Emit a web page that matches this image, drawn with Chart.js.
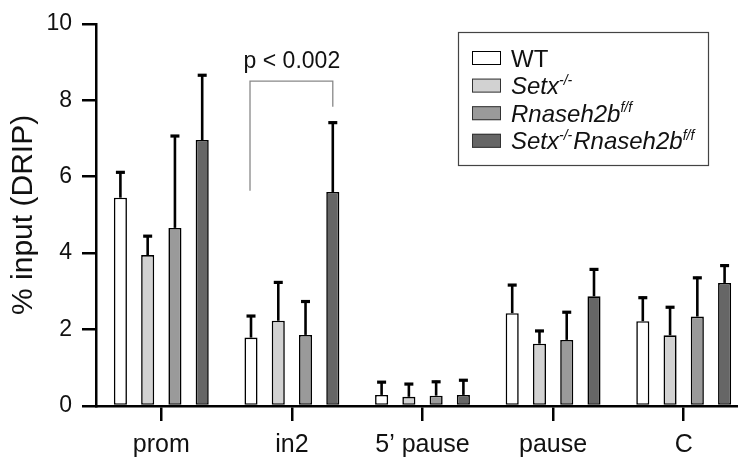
<!DOCTYPE html>
<html>
<head>
<meta charset="utf-8">
<script src="https://cdn.jsdelivr.net/npm/chart.js@4.4.1/dist/chart.umd.min.js"></script>
<style>
  html, body { margin: 0; padding: 0; background: #fff; overflow: hidden; }
</style>
</head>
<body>
<canvas id="dripChart" width="749" height="466"></canvas>
<script>
// regions on the x axis
const regions = ["prom", "in2", "5\u2019 pause", "pause", "C"];

// legend labels, split into runs so the superscripts can be drawn
const wtLabel = [{ text: "WT" }];
const setxLabel = [{ text: "Setx", italic: true }, { text: "-/-", italic: true, sup: true }];
const rnasehLabel = [{ text: "Rnaseh2b", italic: true }, { text: "f/f", italic: true, sup: true }];
const doubleLabel = [
  { text: "Setx", italic: true }, { text: "-/-", italic: true, sup: true },
  { text: "Rnaseh2b", italic: true }, { text: "f/f", italic: true, sup: true }
];

// mean % input and upper error (SD) per region
const wtMeans = [5.45, 1.79, 0.29, 2.43, 2.22];
const wtErr = [0.69, 0.59, 0.36, 0.76, 0.64];
const setxMeans = [3.95, 2.23, 0.24, 1.63, 1.85];
const setxErr = [0.52, 1.03, 0.36, 0.36, 0.76];
const rnasehMeans = [4.66, 1.86, 0.27, 1.73, 2.34];
const rnasehErr = [2.43, 0.90, 0.39, 0.75, 1.04];
const doubleMeans = [6.96, 5.60, 0.29, 2.87, 3.22];
const doubleErr = [1.72, 1.84, 0.41, 0.73, 0.48];

const yTicks = [0, 2, 4, 6, 8, 10];
const pValueText = "p < 0.002";

const FONT = "'Liberation Sans', Arial, Helvetica, sans-serif";
Chart.defaults.font.family = FONT;
Chart.defaults.color = '#111';

const errorBarPlugin = {
  id: 'errorBars',
  afterDatasetsDraw(chart) {
    const { ctx } = chart;
    const y = chart.scales.y;
    ctx.save();
    ctx.strokeStyle = '#000';
    chart.data.datasets.forEach((ds, i) => {
      const meta = chart.getDatasetMeta(i);
      meta.data.forEach((bar, j) => {
        const top = y.getPixelForValue(ds.data[j] + ds.errors[j]);
        ctx.lineWidth = 2.6;
        ctx.beginPath();
        ctx.moveTo(bar.x, bar.y);
        ctx.lineTo(bar.x, top);
        ctx.stroke();
        ctx.lineWidth = 3.2;
        ctx.beginPath();
        ctx.moveTo(bar.x - 4.5, top + 1);
        ctx.lineTo(bar.x + 4.5, top + 1);
        ctx.stroke();
      });
    });
    ctx.restore();
  }
};

// significance bracket between WT and double mutant at in2
const bracketPlugin = {
  id: 'bracket',
  afterDatasetsDraw(chart) {
    const { ctx } = chart;
    const y = chart.scales.y;
    const left = chart.getDatasetMeta(0).data[1];
    const right = chart.getDatasetMeta(3).data[1];
    if (!left || !right) return;
    const yLine = y.getPixelForValue(8.5);
    ctx.save();
    ctx.strokeStyle = '#888';
    ctx.lineWidth = 1.3;
    ctx.beginPath();
    ctx.moveTo(left.x - 1, y.getPixelForValue(5.63));
    ctx.lineTo(left.x - 1, yLine);
    ctx.lineTo(right.x, yLine);
    ctx.lineTo(right.x, y.getPixelForValue(7.83));
    ctx.stroke();
    ctx.fillStyle = '#111';
    ctx.font = `23px ${FONT}`;
    ctx.textAlign = 'center';
    ctx.textBaseline = 'middle';
    ctx.fillText(pValueText, (left.x + right.x) / 2, y.getPixelForValue(9.02));
    ctx.restore();
  }
};

// boxed legend with italic names and superscripts
const boxLegendPlugin = {
  id: 'boxLegend',
  afterDraw(chart) {
    const { ctx } = chart;
    const boxX = 458, boxY = 32, boxW = 250, boxH = 133;
    ctx.save();
    ctx.strokeStyle = '#444';
    ctx.lineWidth = 1.2;
    ctx.strokeRect(boxX + 0.5, boxY + 0.5, boxW, boxH);
    chart.data.datasets.forEach((ds, i) => {
      const cy = 58 + i * 27.6;
      ctx.fillStyle = ds.backgroundColor;
      ctx.fillRect(472, cy - 7, 29, 14);
      ctx.strokeStyle = i === 0 ? '#000' : '#333';
      ctx.lineWidth = 1;
      ctx.strokeRect(472.5, cy - 6.5, 28, 13);
      let x = 511;
      ctx.fillStyle = '#111';
      ctx.textBaseline = 'alphabetic';
      ctx.textAlign = 'left';
      ds.legendRuns.forEach(run => {
        const size = run.sup ? 14 : 24;
        ctx.font = `${run.italic ? 'italic ' : ''}${size}px ${FONT}`;
        const baseline = run.sup ? cy - 1 : cy + 8.5;
        ctx.fillText(run.text, x, baseline);
        x += ctx.measureText(run.text).width + (run.sup ? 1 : 0);
      });
    });
    ctx.restore();
  }
};

function makeDataset(runs, means, errors, fill, border) {
  return {
    label: runs.map(r => r.text).join(''),
    legendRuns: runs,
    data: means,
    errors: errors,
    backgroundColor: fill,
    borderColor: border,
    borderWidth: 1.6,
    borderSkipped: false
  };
}

const ctx = document.getElementById('dripChart');
new Chart(ctx, {
  type: 'bar',
  data: {
    labels: regions,
    datasets: [
      makeDataset(wtLabel, wtMeans, wtErr, '#ffffff', '#000'),
      makeDataset(setxLabel, setxMeans, setxErr, '#d2d2d2', '#000'),
      makeDataset(rnasehLabel, rnasehMeans, rnasehErr, '#9a9a9a', '#000'),
      makeDataset(doubleLabel, doubleMeans, doubleErr, '#666666', '#000')
    ]
  },
  options: {
    responsive: false,
    animation: false,
    layout: { padding: { top: 19, right: 0, bottom: 0, left: 0 } },
    datasets: {
      bar: { categoryPercentage: 0.835, barPercentage: 0.48 }
    },
    scales: {
      x: {
        offset: true,
        grid: { display: true, drawOnChartArea: false, offset: false, tickLength: 15, lineWidth: 2.5, color: '#000' },
        border: { display: true, color: '#000', width: 2.5 },
        ticks: { color: '#111', font: { size: 25 }, padding: 9, maxRotation: 0, autoSkip: false },
        afterFit: (scale) => { scale.height = 60; }
      },
      y: {
        min: 0,
        max: 10,
        afterBuildTicks: (scale) => { scale.ticks = yTicks.map(v => ({ value: v })); },
        grid: { display: true, drawOnChartArea: false, tickLength: 14, lineWidth: 2.5, color: '#000' },
        border: { display: true, color: '#000', width: 2.5 },
        ticks: { color: '#111', font: { size: 23 }, padding: 10 },
        title: { display: true, text: '% input (DRIP)', color: '#111', font: { size: 30 }, padding: { top: 6, bottom: 0 } },
        afterFit: (scale) => { scale.width = 96; }
      }
    },
    plugins: {
      legend: { display: false },
      tooltip: { enabled: false }
    }
  },
  plugins: [errorBarPlugin, bracketPlugin, boxLegendPlugin]
});
</script>
</body>
</html>
